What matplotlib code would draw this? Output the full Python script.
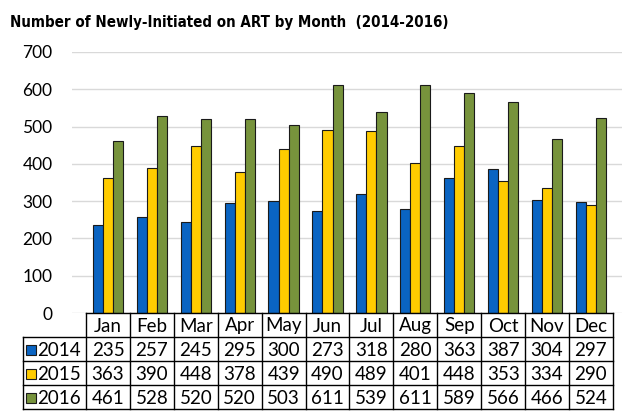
import matplotlib
matplotlib.use("Agg")
import matplotlib.pyplot as plt
import numpy as np
from matplotlib import font_manager

months = ["Jan", "Feb", "Mar", "Apr", "May", "Jun", "Jul", "Aug", "Sep", "Oct", "Nov", "Dec"]
years = ["2014", "2015", "2016"]
v2014 = [235, 257, 245, 295, 300, 273, 318, 280, 363, 387, 304, 297]
v2015 = [363, 390, 448, 378, 439, 490, 489, 401, 448, 353, 334, 290]
v2016 = [461, 528, 520, 520, 503, 611, 539, 611, 589, 566, 466, 524]
series = [v2014, v2015, v2016]
colors = ["#0A64C2", "#FFCC00", "#77933C"]
yticks = [0, 100, 200, 300, 400, 500, 600, 700]

W, H = 622, 420
fig = plt.figure(figsize=(W / 100, H / 100), dpi=100)

x0, s = 108.0, 43.9  # pixel centre of first month, spacing
def px2i(p):
    return (p - x0) / s

ax = fig.add_axes([72 / W, (H - 313) / H, (622 - 72) / W, (313 - 52) / H])
ax.set_xlim(px2i(72), px2i(622))
ax.set_ylim(0, 700)
idx = np.arange(len(months))
bw = 0.23
for k, (vals, c) in enumerate(zip(series, colors)):
    ax.bar(idx + (k - 1) * bw, vals, width=bw, color=c, edgecolor="#1a1a1a",
           linewidth=0.8, zorder=3)
ax.set_yticks(yticks)
ax.yaxis.grid(True, color="#D9D9D9", linewidth=1, zorder=0)
ax.set_xticks([])
for sp in ax.spines.values():
    sp.set_visible(False)
ax.tick_params(axis="y", length=0, pad=14, labelsize=12.5)
for t in ax.get_yticklabels():
    t.set_fontfamily("Lato")

tx = fig.add_axes([0, 0, 1, 1])
tx.set_xlim(px2i(0), px2i(W))
tx.set_ylim(H, 0)
tx.axis("off")
lw = 1.0
rows_y = [313, 337, 361, 385, 409]
left_leg = px2i(23)
col_l = idx - 0.5
right = idx[-1] + 0.5
tx.plot([-0.5, right], [rows_y[0]] * 2, color="black", lw=lw)
for y in rows_y[1:]:
    tx.plot([left_leg, right], [y, y], color="black", lw=lw)
for xl in list(col_l) + [right]:
    tx.plot([xl, xl], [rows_y[0], rows_y[-1]], color="black", lw=lw)
tx.plot([left_leg, left_leg], [rows_y[1], rows_y[-1]], color="black", lw=lw)

fs = 13.5
for i, m in enumerate(months):
    tx.text(i, (rows_y[0] + rows_y[1]) / 2 + 1, m, ha="center", va="center",
            fontsize=fs, family="Lato")
for r, (yr, vals, c) in enumerate(zip(years, series, colors)):
    yc = (rows_y[r + 1] + rows_y[r + 2]) / 2 + 1
    sq = 10 / s
    tx.add_patch(plt.Rectangle((px2i(26), yc - 5), sq, 10, facecolor=c,
                               edgecolor="#1a1a1a", lw=0.8))
    tx.text(px2i(37), yc, yr, ha="left", va="center", fontsize=fs, family="Lato")
    for i, v in enumerate(vals):
        tx.text(i, yc, str(v), ha="center", va="center", fontsize=fs, family="Lato")

fp = font_manager.FontProperties(family="DejaVu Sans", weight="bold", stretch="condensed", size=10.8)
fig.text(10 / W, 1 - 22 / H, "Number of Newly-Initiated on ART by Month  (2014-2016)",
         ha="left", va="center", fontproperties=fp)

fig.savefig("out.png", dpi=100)
